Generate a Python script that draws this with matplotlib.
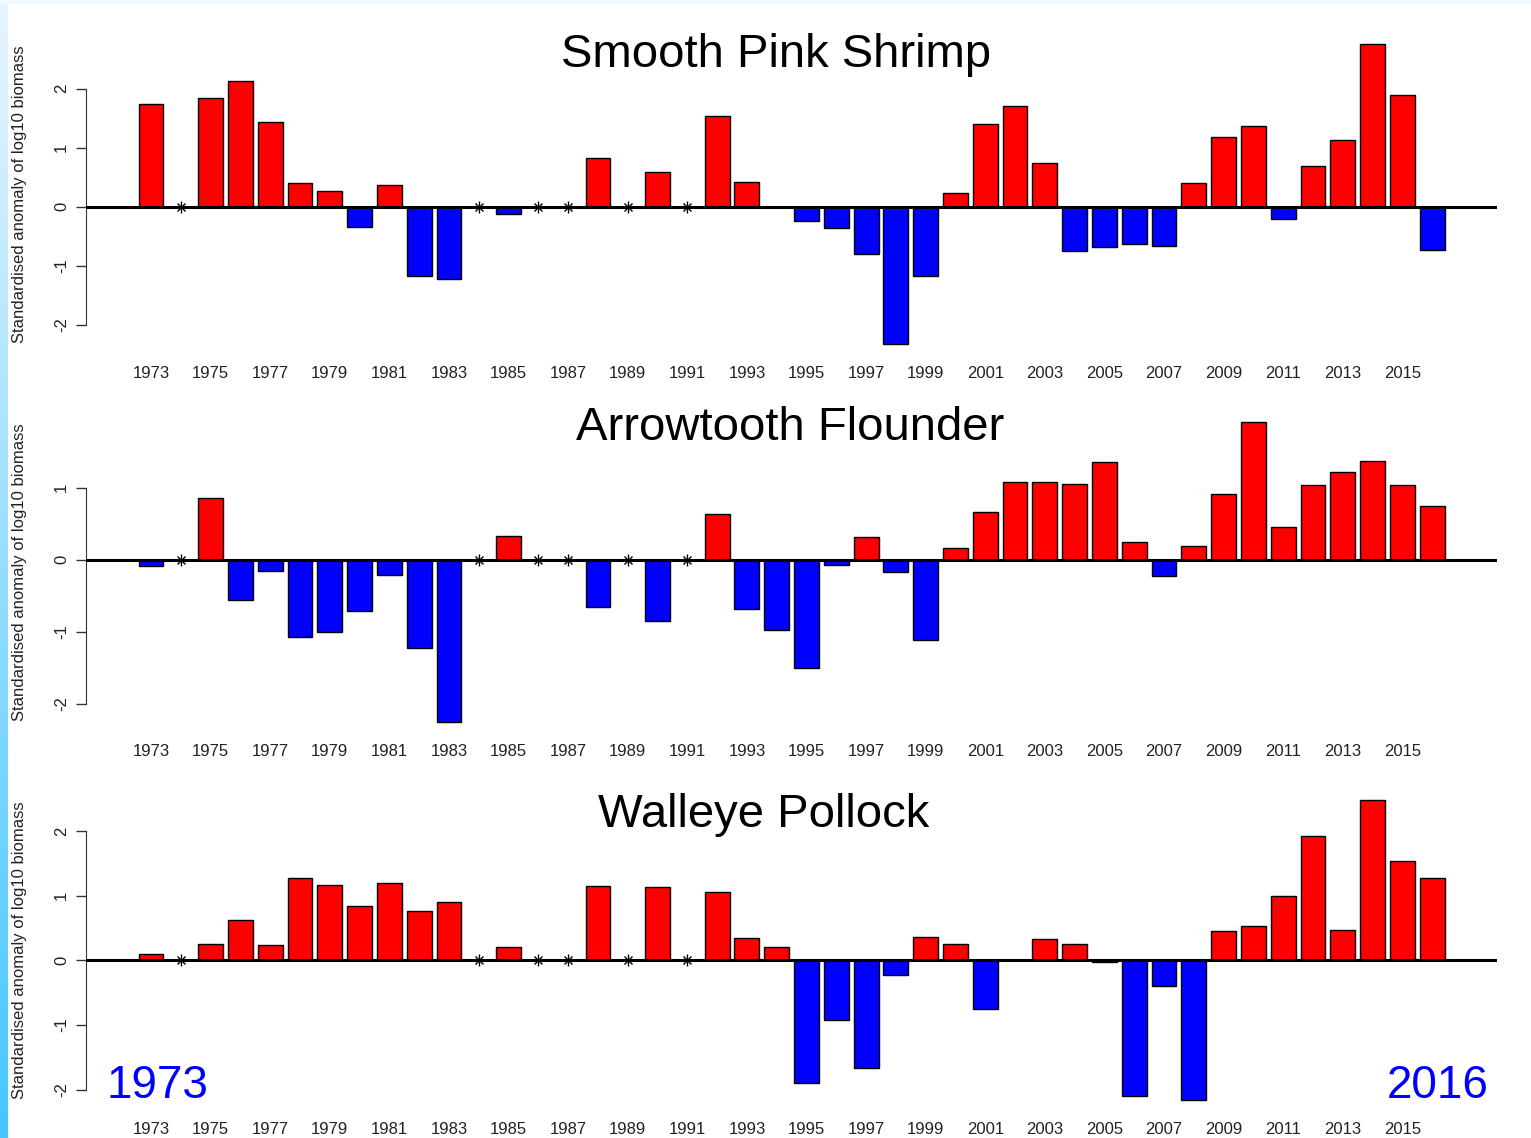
import numpy as np
import matplotlib
matplotlib.use('Agg')
import matplotlib.pyplot as plt

plt.rcParams['font.family'] = ['Liberation Sans', 'DejaVu Sans']

nan = np.nan
years = np.arange(1973, 2017)

# standardised anomalies, nan = no survey that year
shrimp = [1.74, nan, 1.84, 2.13, 1.44, 0.40, 0.27, -0.34, 0.37, -1.18,
          -1.23, nan, -0.13, nan, nan, 0.82, nan, 0.58, nan, 1.53,
          0.42, 0.0, -0.24, -0.37, -0.81, -2.33, -1.18, 0.24, 1.40, 1.71,
          0.74, -0.76, -0.68, -0.63, -0.66, 0.40, 1.19, 1.37, -0.21, 0.69,
          1.13, 2.76, 1.90, -0.73]
flounder = [-0.08, nan, 0.85, -0.56, -0.15, -1.07, -1.00, -0.71, -0.21, -1.22,
            -2.25, nan, 0.33, nan, nan, -0.66, nan, -0.85, nan, 0.63,
            -0.68, -0.98, -1.50, -0.07, 0.31, -0.17, -1.11, 0.16, 0.66, 1.08,
            1.08, 1.05, 1.36, 0.25, -0.22, 0.19, 0.91, 1.91, 0.45, 1.03,
            1.22, 1.37, 1.03, 0.75]
pollock = [0.10, nan, 0.26, 0.62, 0.24, 1.27, 1.17, 0.84, 1.19, 0.76,
           0.90, nan, 0.21, nan, nan, 1.15, nan, 1.13, nan, 1.06,
           0.34, 0.21, -1.90, -0.92, -1.66, -0.23, 0.36, 0.25, -0.76, 0.0,
           0.33, 0.26, -0.03, -2.10, -0.39, -2.16, 0.45, 0.53, 1.00, 1.93,
           0.47, 2.48, 1.53, 1.27]

species = ['Smooth Pink Shrimp', 'Arrowtooth Flounder', 'Walleye Pollock']
series = [shrimp, flounder, pollock]
yticks = [[-2, -1, 0, 1, 2], [-2, -1, 0, 1], [-2, -1, 0, 1, 2]]

W, H = 1531, 1138
fig = plt.figure(figsize=(W / 100, H / 100), dpi=100)
fig.patch.set_facecolor('white')

# light blue strip down the left edge and a faint band along the top
strip = fig.add_axes([0, 0, 8 / W, 1])
grad = np.linspace(0, 1, 256)[:, None]
top_c = np.array([0.91, 0.96, 1.0])
bot_c = np.array([0.27, 0.78, 1.0])
img = top_c[None, None, :] * (1 - grad[:, :, None]) + bot_c[None, None, :] * grad[:, :, None]
strip.imshow(img, aspect='auto', extent=[0, 1, 1, 0])
strip.axis('off')
band = fig.add_axes([0, 1 - 4 / H, 1, 4 / H])
band.set_facecolor('#f2f8ff')
band.axis('off')
band.add_patch(plt.Rectangle((0, 0), 1, 1, color='#f2f8ff', transform=band.transAxes))

# R barplot geometry: bar i centred at 0.7 + 1.2 i, width 1
xpos = 0.7 + 1.2 * np.arange(len(years))
x_lo, x_hi = 0.2, xpos[-1] + 0.5
pad = 0.04 * (x_hi - x_lo)

tops = [32, 410, 788]
title_pos = [(776, 67), (790, 440), (764, 827)]
ax_left, ax_w, ax_h = 86.3, 1410.6, 324

for k, (name, vals) in enumerate(zip(species, series)):
    v = np.array(vals, dtype=float)
    ax = fig.add_axes([ax_left / W, 1 - (tops[k] + ax_h) / H, ax_w / W, ax_h / H])
    ok = ~np.isnan(v)
    cols = np.where(v >= 0, '#ff0000', '#0000ff')
    ax.bar(xpos[ok], v[ok], width=1.0, color=cols[ok], edgecolor='black',
           linewidth=1.0, zorder=2)
    ax.axhline(0, color='black', lw=2.2, zorder=3)
    miss = xpos[~ok]
    ax.plot(miss, np.zeros_like(miss), ls='none', marker='+', ms=8, mew=1.0,
            color='black', zorder=4)
    ax.plot(miss, np.zeros_like(miss), ls='none', marker='x', ms=6, mew=1.0,
            color='black', zorder=4)

    lo, hi = min(np.nanmin(v), 0), max(np.nanmax(v), 0)
    ypad = 0.04 * (hi - lo)
    ax.set_ylim(lo - ypad, hi + ypad)
    ax.set_xlim(x_lo - pad, x_hi + pad)

    for s in ['top', 'right', 'bottom']:
        ax.spines[s].set_visible(False)
    ax.spines['left'].set_color('#333333')
    ax.spines['left'].set_bounds(yticks[k][0], yticks[k][-1])
    ax.set_yticks(yticks[k])
    ax.set_yticklabels([str(t) for t in yticks[k]], rotation=90, va='center')
    ax.tick_params(axis='y', length=7.5, width=1, color='#333333', pad=5,
                   labelsize=12, labelcolor='#222222')
    ax.set_xticks(xpos[::2])
    ax.set_xticklabels([str(y) for y in years[::2]])
    ax.tick_params(axis='x', length=0, pad=7.5, labelsize=12, labelcolor='#222222')
    ax.patch.set_alpha(0)

    cy = tops[k] + ax_h / 2
    fig.text(20 / W, 1 - cy / H, 'Standardised anomaly of log10 biomass',
             rotation=90, ha='center', va='center', fontsize=12, color='#222222')
    tx, ty = title_pos[k]
    fig.text(tx / W, 1 - ty / H, name, ha='center', va='baseline', fontsize=34,
             color='black')

fig.text(107 / W, 1 - 1098 / H, '1973', ha='left', va='baseline', fontsize=33,
         color='#0000ff')
fig.text(1489 / W, 1 - 1098 / H, '2016', ha='right', va='baseline', fontsize=33,
         color='#0000ff')

fig.savefig('out.png', dpi=100)
